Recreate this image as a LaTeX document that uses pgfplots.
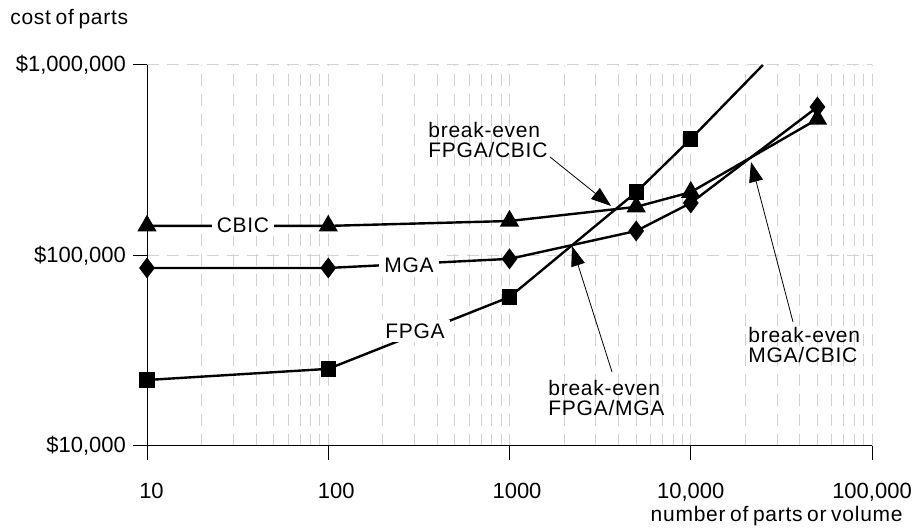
\documentclass[border=0pt]{standalone}
\usepackage{fontspec}
\setmainfont{Liberation Sans}
\newfontfamily\spacedfont[LetterSpace=3.5, WordSpace=0.7]{Liberation Sans}
\usepackage{pgfplots}
\pgfplotsset{compat=1.18}
\usetikzlibrary{arrows.meta}
\newcommand{\fsz}{\spacedfont\fontsize{10.5}{10.3}\selectfont}
\newcommand{\tsz}{\fontsize{11}{12}\selectfont}
\begin{document}
\begin{tikzpicture}
\useasboundingbox (-73.5pt,-41.5pt) rectangle (384.5pt,223pt);
\begin{axis}[
  at={(0,0)}, anchor=south west,
  scale only axis, width=362.5pt, height=190.5pt,
  xmode=log, ymode=log,
  xmin=10, xmax=100000, ymin=10000, ymax=1000000,
  axis x line=bottom, axis y line=left,
  axis line style={-, line width=0.5pt},
  xtick={10,100,1000,10000,100000},
  xticklabels={\hspace*{4.5pt}10,\hspace*{8pt}100,\hspace*{7.5pt}1000,{10,000},{100,000}},
  ytick={10000,100000,1000000},
  yticklabels={{\$10,000},{\$100,000},{\$1,000,000}},
  tick label style={font=\tsz},
  xticklabel shift=8pt,
  tick align=outside,
  major tick length=7pt,
  minor tick length=0pt,
  tick style={black, line width=0.5pt},
  xmajorgrids=true, xminorgrids=true, ymajorgrids=true,
  major grid style={color=gray!35, line width=0.5pt, dash pattern=on 6pt off 4pt},
  minor grid style={color=gray!35, line width=0.5pt, dash pattern=on 6pt off 4pt},
  clip=false,
]
% FPGA
\addplot[black, line width=1.2pt, mark=square*, mark size=3.25pt] coordinates {
  (10,22200) (100,25400) (1000,60500) (5000,215000) (10000,409000)
};
\addplot[black, line width=1.2pt, no marks] coordinates {
  (10000,409000) (25000,1000000)
};
% MGA
\addplot[black, line width=1.2pt, mark=diamond*, mark size=4.25pt] coordinates {
  (10,86000) (100,86000) (1000,96000) (5000,134500) (10000,188600) (50000,602000)
};
% CBIC
\addplot[black, line width=1.2pt, mark=triangle*, mark size=4.4pt] coordinates {
  (10,143000) (100,143000) (1000,151700) (5000,180000) (10000,215000) (50000,520000)
};
% series labels
\node[fill=white, inner xsep=2.5pt, inner ysep=2pt, font=\fsz] at (rel axis cs:0.1324,0.58) {CBIC};
\node[fill=white, inner xsep=2.5pt, inner ysep=2pt, font=\fsz] at (rel axis cs:0.3614,0.4737) {MGA};
\node[fill=white, inner xsep=2.5pt, inner ysep=2pt, font=\fsz] at (rel axis cs:0.3697,0.3018) {FPGA};
% break-even annotations
\node[anchor=west, align=left, inner sep=0pt, font=\fsz] at (rel axis cs:0.3876,0.8031) {break-even\\FPGA/CBIC};
\node[anchor=west, align=left, inner sep=0pt, font=\fsz] at (rel axis cs:0.5531,0.126) {break-even\\FPGA/MGA};
\node[anchor=west, align=left, inner sep=0pt, font=\fsz] at (rel axis cs:0.829,0.2651) {break-even\\MGA/CBIC};
\draw[line width=0.4pt, -{Triangle[length=10pt,width=7pt]}] (rel axis cs:0.5559,0.7585) -- (rel axis cs:0.64,0.63);
\draw[line width=0.4pt, -{Triangle[length=10pt,width=7pt]}] (rel axis cs:0.6414,0.1942) -- (rel axis cs:0.5862,0.5249);
\draw[line width=0.4pt, -{Triangle[length=10pt,width=7pt]}] (rel axis cs:0.891,0.3255) -- (rel axis cs:0.8331,0.7454);
% axis titles
\node[anchor=base west, inner sep=0pt, font=\fsz] at (rel axis cs:-0.189,1.105) {cost of parts};
\node[anchor=base east, inner sep=0pt, font=\fsz] at (rel axis cs:1.0428,-0.198) {number of parts or volume};
\end{axis}
\end{tikzpicture}
\end{document}
